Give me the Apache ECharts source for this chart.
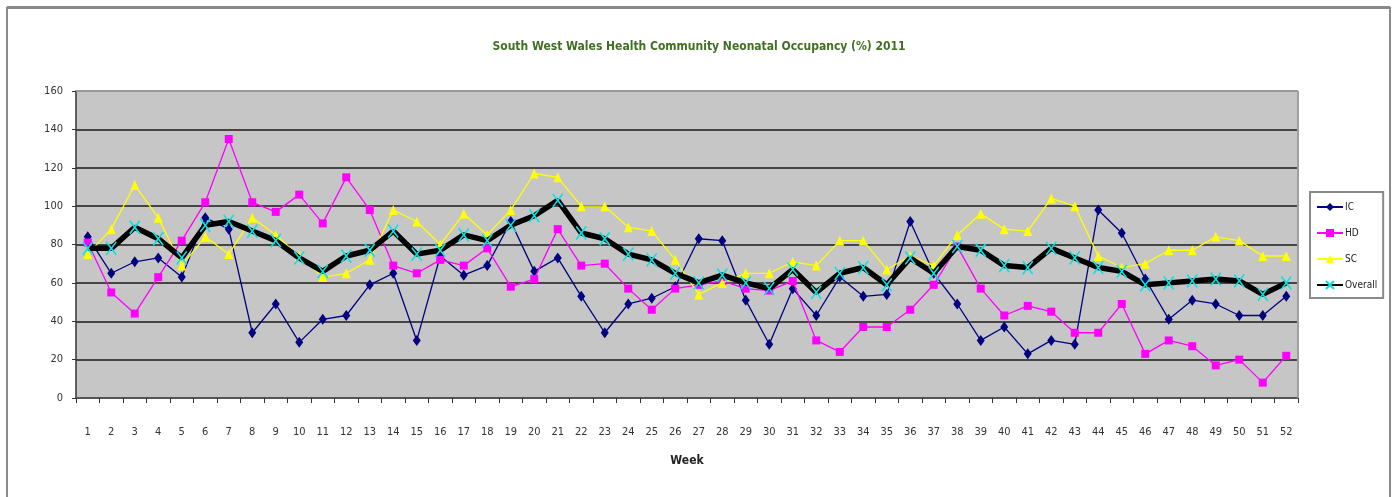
<!DOCTYPE html>
<html>
<head>
<meta charset="utf-8">
<script src="https://cdn.jsdelivr.net/npm/echarts@6/dist/echarts.min.js"></script>
<style>
html,body{margin:0;padding:0;background:#fff;}
#c{width:1398px;height:497px;}
</style>
</head>
<body>
<div id="c"></div>
<script>
const weeks = Array.from({length: 52}, (_, i) => String(i + 1));
const icValues = [84,65,71,73,63,94,88,34,49,29,41,43,59,65,30,74,64,69,92,66,73,53,34,49,52,58,83,82,51,28,57,43,63,53,54,92,65,49,30,37,23,30,28,98,86,62,41,51,49,43,43,53];
const hdValues = [81,55,44,63,82,102,135,102,97,106,91,115,98,69,65,72,69,78,58,62,88,69,70,57,46,57,59,61,57,56,61,30,24,37,37,46,59,79,57,43,48,45,34,34,49,23,30,27,17,20,8,22];
const scValues = [75,88,111,94,69,84,75,94,85,74,63,65,72,98,92,80,96,85,98,117,115,100,100,89,87,72,54,60,65,65,71,69,82,82,67,74,69,85,96,88,87,104,100,74,68,70,77,77,84,82,74,74];
const overallValues = [78,78,89,83,73,90,92,87,82,73,66,74,77,87,75,77,85,82,90,95,103,86,83,75,72,65,60,64,60,57,67,55,65,68,59,73,65,79,77,69,68,78,73,68,66,59,60,61,62,61,54,60];
const yTicks = {min: 0, max: 160, interval: 20};

const narrow = "'Liberation Sans Narrow', 'Arial Narrow', 'DejaVu Sans Condensed', sans-serif";
const chart = echarts.init(document.getElementById('c'), null, {renderer: 'canvas'});
chart.setOption({
  animation: false,
  backgroundColor: '#ffffff',
  title: {
    text: 'South West Wales Health Community Neonatal Occupancy (%) 2011',
    left: 'center', top: 36,
    textStyle: {color: '#3f6f22', fontSize: 12, fontWeight: 'bold', fontFamily: narrow}
  },
  graphic: [
    {type: 'rect', shape: {x: 7, y: 8, width: 1383, height: 520}, style: {fill: 'none', stroke: '#8a8a8a', lineWidth: 2}, z: 0},
    {type: 'line', shape: {x1: 7, y1: 7.5, x2: 1390, y2: 7.5}, style: {stroke: '#8a8a8a', lineWidth: 3}, z: 0},
    {type: 'line', shape: {x1: 76, y1: 91, x2: 1298, y2: 91}, style: {stroke: '#999999', lineWidth: 2}, z: 5},
    {type: 'line', shape: {x1: 1298, y1: 91, x2: 1298, y2: 398}, style: {stroke: '#a0a0a0', lineWidth: 2}, z: 5}
  ],
  legend: {
    orient: 'vertical',
    left: 1310, top: 192,
    padding: [10, 6, 8, 6],
    itemGap: 16,
    itemWidth: 26, itemHeight: 10,
    backgroundColor: '#ffffff',
    borderColor: '#8a8a8a', borderWidth: 2,
    textStyle: {fontSize: 10, color: '#222', fontFamily: narrow, padding: [0, 0, 0, -3]},
    data: ['IC', 'HD', 'SC', 'Overall']
  },
  grid: {left: 76, right: 100, top: 91, bottom: 99, backgroundColor: '#c6c6c6', show: true, borderWidth: 0},
  xAxis: {
    type: 'category',
    data: weeks,
    boundaryGap: true,
    name: 'Week',
    nameLocation: 'middle',
    nameGap: 57,
    nameTextStyle: {fontSize: 12, fontWeight: 'bold', color: '#222', fontFamily: narrow},
    axisLine: {lineStyle: {color: '#555', width: 2}},
    axisTick: {show: true, alignWithLabel: false, length: 5, lineStyle: {color: '#333'}},
    axisLabel: {interval: 0, margin: 29, fontSize: 11, color: '#333', fontFamily: narrow},
    splitLine: {show: false}
  },
  yAxis: {
    type: 'value',
    min: yTicks.min, max: yTicks.max, interval: yTicks.interval,
    axisLine: {show: true, lineStyle: {color: '#333', width: 1.5}},
    axisTick: {show: true, length: 4, lineStyle: {color: '#333'}},
    axisLabel: {margin: 13, fontSize: 11, color: '#333', fontFamily: narrow},
    splitLine: {show: true, lineStyle: {color: '#1a1a1a', width: 1.5}}
  },
  series: [
    {
      name: 'IC', type: 'line', data: icValues,
      symbol: 'diamond', symbolSize: [8, 11],
      itemStyle: {color: '#000080'},
      lineStyle: {color: '#000080', width: 1.3},
      z: 2
    },
    {
      name: 'HD', type: 'line', data: hdValues,
      symbol: 'rect', symbolSize: 8,
      itemStyle: {color: '#ff00ff'},
      lineStyle: {color: '#ff00ff', width: 1.3},
      z: 3
    },
    {
      name: 'SC', type: 'line', data: scValues,
      symbol: 'triangle', symbolSize: [9, 10],
      itemStyle: {color: '#ffff00'},
      lineStyle: {color: '#ffff00', width: 1.3},
      z: 4
    },
    {
      name: 'Overall', type: 'line', data: overallValues,
      symbol: 'path://M0,0L10,12M10,0L0,12', symbolSize: [10, 13],
      itemStyle: {color: '#00e5e5', borderColor: '#00e5e5', borderWidth: 1.6},
      lineStyle: {color: '#000000', width: 5.5},
      z: 5
    }
  ]
});
</script>
</body>
</html>
